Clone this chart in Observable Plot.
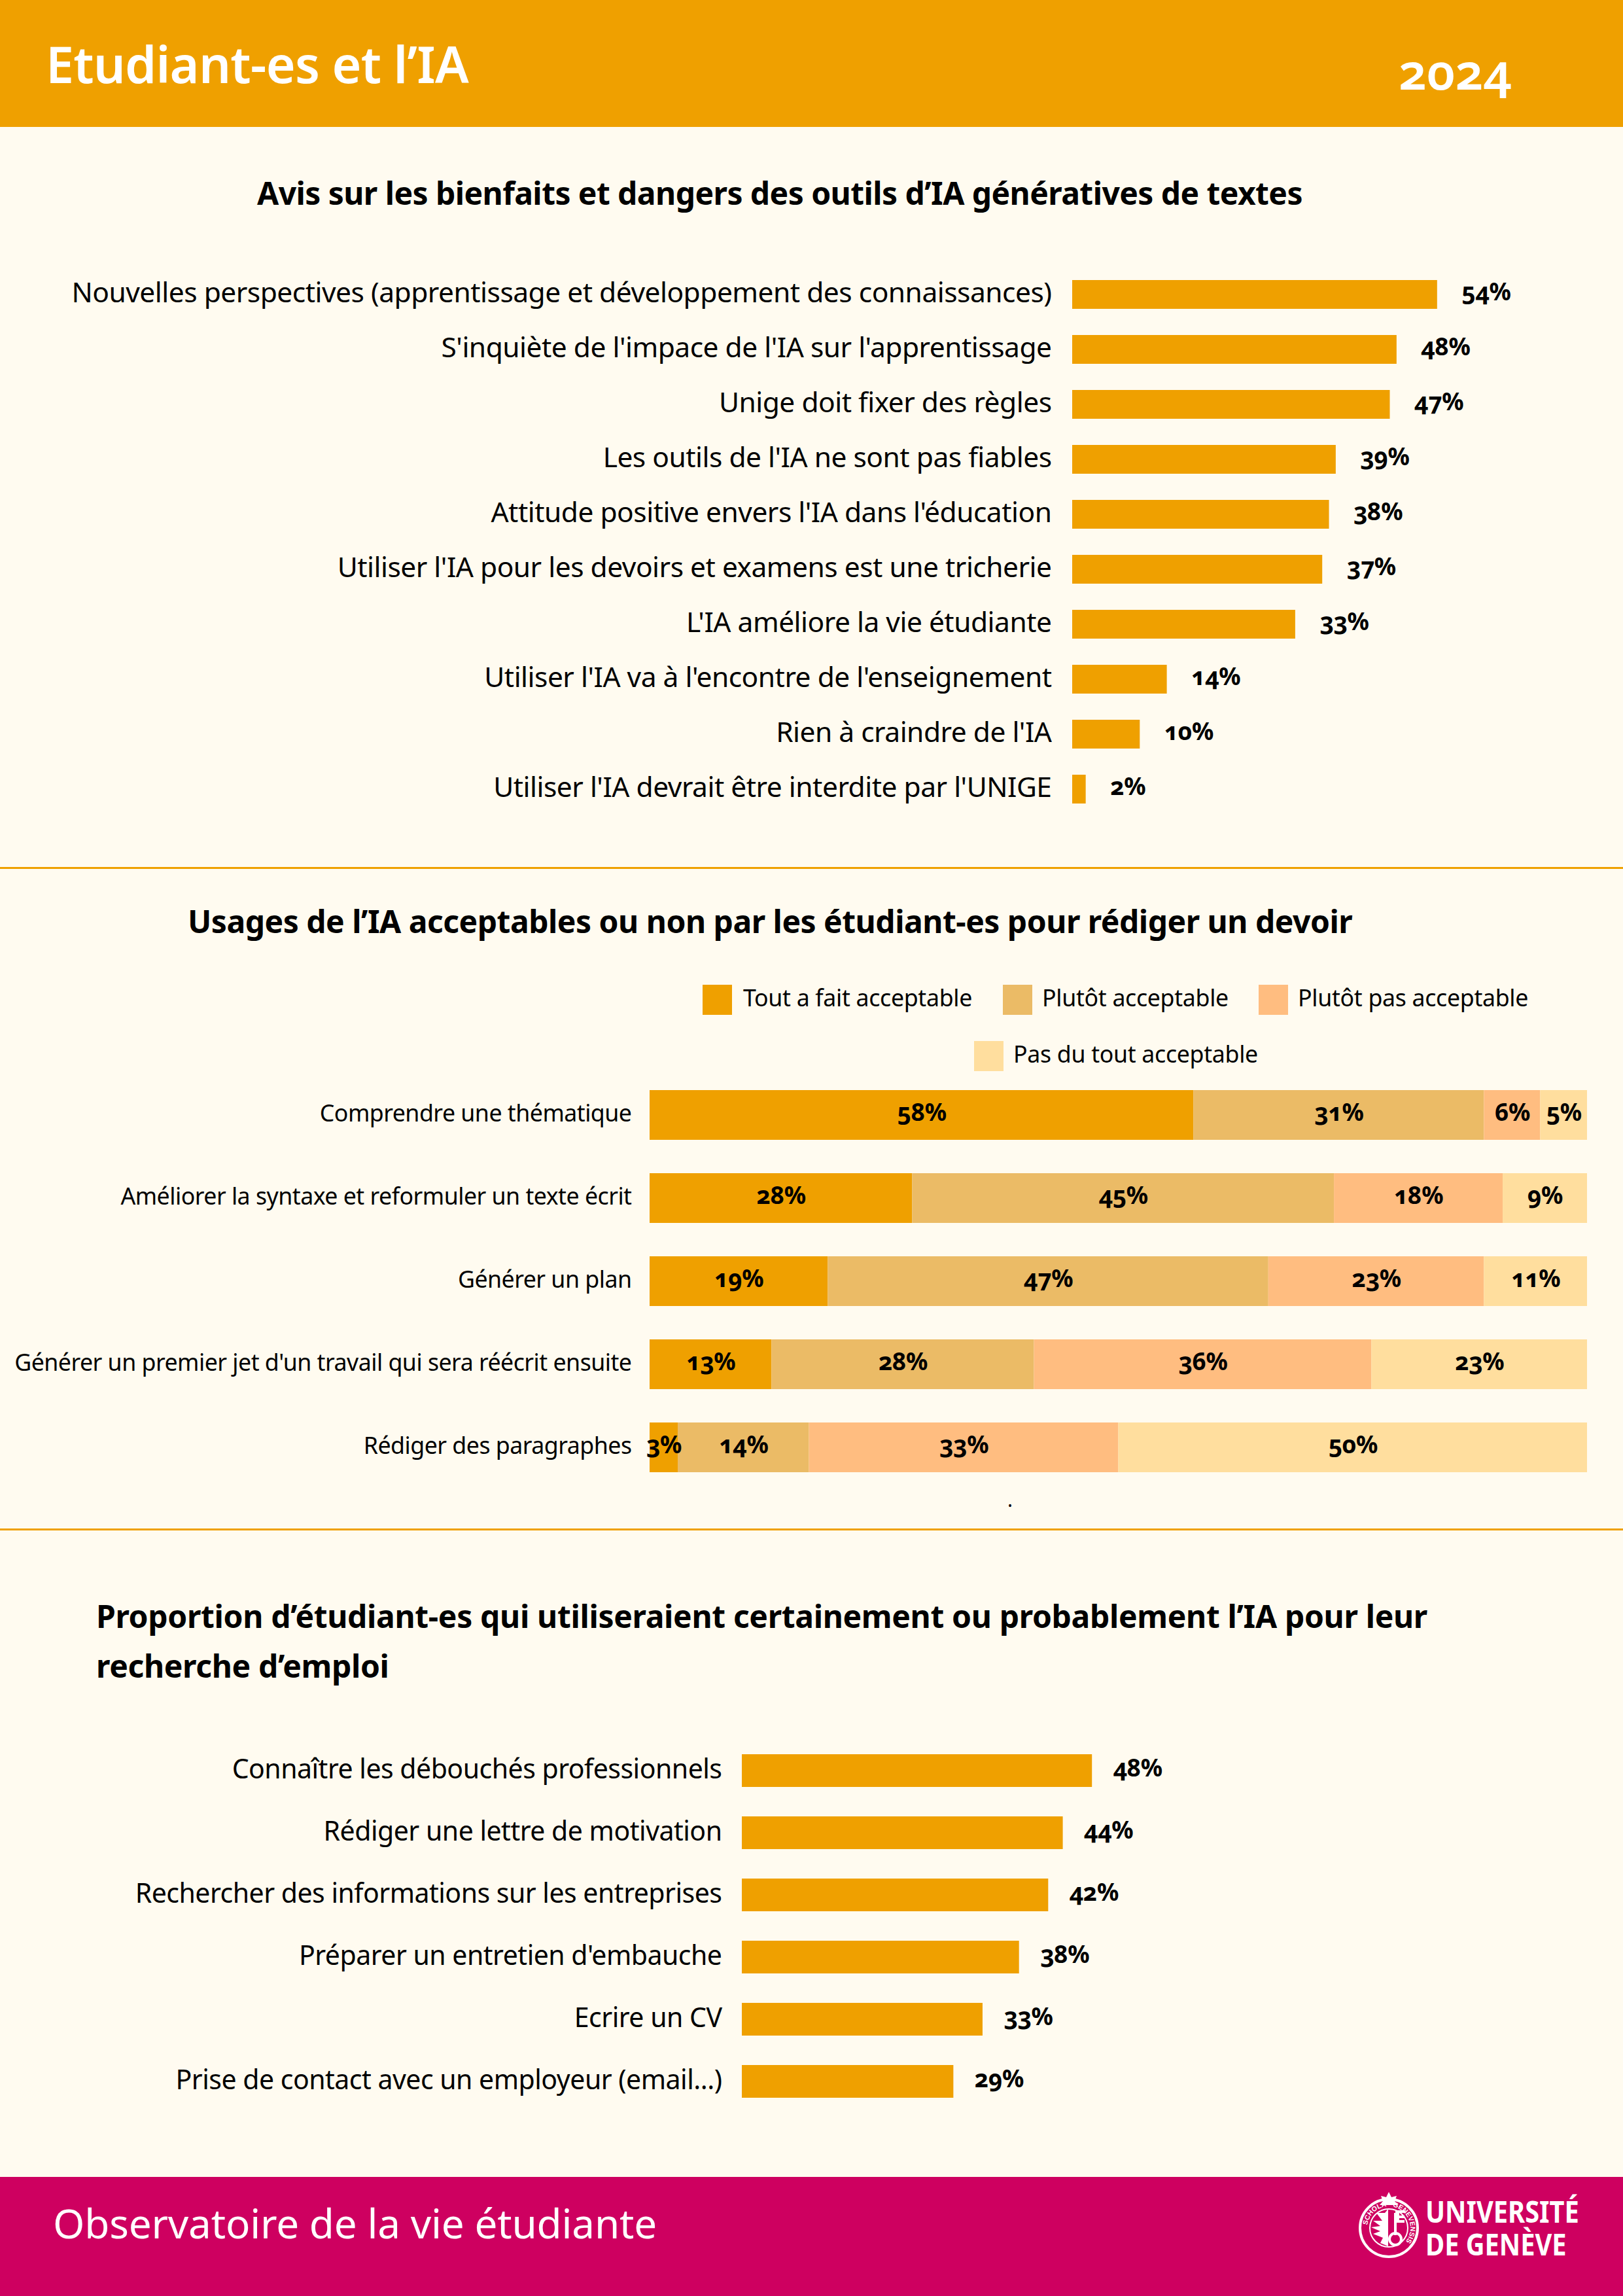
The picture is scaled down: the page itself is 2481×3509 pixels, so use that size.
<!DOCTYPE html>
<html lang="fr">
<head>
<meta charset="utf-8">
<script src="https://cdn.jsdelivr.net/npm/d3@7"></script>
<script src="https://cdn.jsdelivr.net/npm/@observablehq/plot@0.6"></script>
<style>
html,body{margin:0;padding:0;background:#FFFBF0}
#page{position:relative;width:2481px;height:3509px;background:#FFFBF0;overflow:hidden;font-family:"Noto Sans",sans-serif;font-variant-numeric:oldstyle-nums;font-feature-settings:"onum" 1;color:#000}
.abs{position:absolute;white-space:nowrap}
.band{position:absolute;left:0;width:2481px}
.rule{position:absolute;left:0;width:2481px;height:3px;background:#EFA000}
.title{font-weight:700;font-size:48px;letter-spacing:-.57px;line-height:76px}
.sw{position:absolute;width:45px;height:46px}
.lg{position:absolute;white-space:nowrap;font-size:35.7px;letter-spacing:-.3px;line-height:46px}
.plot{position:absolute;left:0}
.plot svg{display:block;overflow:visible;font-feature-settings:"onum" 1;font-variant-numeric:oldstyle-nums}
</style>
</head>
<body>
<div id="page">
  <div class="band" style="top:0;height:194px;background:#EFA000"></div>
  <div class="abs" style="left:70px;top:42px;font-size:77px;letter-spacing:-.75px;line-height:112px;font-weight:600;color:#fff">Etudiant-es et l’IA</div>
  <div class="abs" style="left:2138px;top:52px;font-size:76px;line-height:112px;font-weight:600;color:#fff">2024</div>

  <div class="abs title" style="left:393px;top:257px">Avis sur les bienfaits et dangers des outils d’IA génératives de textes</div>
  <div class="rule" style="top:1325px"></div>
  <div class="abs title" style="left:287px;top:1370px;letter-spacing:-.5px">Usages de l’IA acceptables ou non par les étudiant-es pour rédiger un devoir</div>
  <div class="rule" style="top:2336px"></div>
  <div class="abs" style="left:1540px;top:2272px;font-size:30px;line-height:40px">.</div>
  <div class="abs title" style="left:147px;top:2432px;letter-spacing:-.34px">Proportion d’étudiant-es qui utiliseraient certainement ou probablement l’IA pour leur<br>recherche d’emploi</div>

  <div id="legend"></div>
  <div id="c1" class="plot"></div>
  <div id="c2" class="plot"></div>
  <div id="c3" class="plot"></div>

  <div class="band" style="top:3327px;height:182px;background:#CE0060"></div>
  <div class="abs" style="left:81px;top:3349px;font-size:62px;letter-spacing:-.2px;line-height:96px;color:#fff">Observatoire de la vie étudiante</div>
  <svg class="abs" style="left:2073px;top:3350px" width="100" height="104" viewBox="-50 -52 100 104">
    <defs><path id="ringpath" d="M -33 0 A 33 33 0 1 1 33 0 A 33 33 0 1 1 -33 0"></path></defs>
    <circle r="44" cy="3" fill="none" stroke="#fff" stroke-width="4"></circle>
    <circle r="29" cy="3" fill="none" stroke="#fff" stroke-width="2"></circle>
    <text font-family="Liberation Sans" font-size="10.5" font-weight="700" fill="#fff" transform="translate(0,3)"><textPath href="#ringpath" startOffset="2%">SCHOLA · GENEVENSIS</textPath></text>
    <path d="M0 -52 L4 -44 L12 -46 L9 -38 L14 -32 L-14 -32 L-9 -38 L-12 -46 L-4 -44Z" fill="#fff"></path>
    <path d="M-1 -26 L-1 31 L-13 26 L-9 18 L-24 12 L-13 8 L-27 2 L-13 0 L-24 -8 L-10 -8 L-19 -20 L-6 -20Z" fill="#fff"></path>
    <rect x="8" y="-20" width="4" height="34" fill="#fff"></rect>
    <path d="M10 -24 h14 v4 h-8 v4 h8 v4 h-8 v3 h8 v4 h-14Z" fill="#fff"></path>
    <circle cx="10" cy="20" r="9" fill="none" stroke="#fff" stroke-width="4"></circle>
  </svg>
  <div class="abs" style="left:2179px;top:3354px;font-size:46px;line-height:50px;font-weight:700;color:#fff;transform:scaleX(.865);transform-origin:0 0">UNIVERSITÉ<br>DE GENÈVE</div>
</div>

<script>
// Chart 1: opinions on generative AI tools
const opinionLabels = [
  "Nouvelles perspectives (apprentissage et développement des connaissances)",
  "S'inquiète de l'impace de l'IA sur l'apprentissage",
  "Unige doit fixer des règles",
  "Les outils de l'IA ne sont pas fiables",
  "Attitude positive envers l'IA dans l'éducation",
  "Utiliser l'IA pour les devoirs et examens est une tricherie",
  "L'IA améliore la vie étudiante",
  "Utiliser l'IA va à l'encontre de l'enseignement",
  "Rien à craindre de l'IA",
  "Utiliser l'IA devrait être interdite par l'UNIGE"
];
const opinionValues = [54, 48, 47, 39, 38, 37, 33, 14, 10, 2];

// Chart 2: acceptable uses
const useLabels = [
  "Comprendre une thématique",
  "Améliorer la syntaxe et reformuler un texte écrit",
  "Générer un plan",
  "Générer un premier jet d'un travail qui sera réécrit ensuite",
  "Rédiger des paragraphes"
];
const levels = ["Tout a fait acceptable", "Plutôt acceptable", "Plutôt pas acceptable", "Pas du tout acceptable"];
const toutAFait   = [58, 28, 19, 13, 3];
const plutot      = [31, 45, 47, 28, 14];
const plutotPas   = [6, 18, 23, 36, 33];
const pasDuTout   = [5, 9, 11, 23, 50];
const levelColors = ["#EFA000", "#EBBB66", "#FFBD80", "#FFDE9E"];

// Chart 3: job search
const jobLabels = [
  "Connaître les débouchés professionnels",
  "Rédiger une lettre de motivation",
  "Rechercher des informations sur les entreprises",
  "Préparer un entretien d'embauche",
  "Ecrire un CV",
  "Prise de contact avec un employeur (email...)"
];
const jobValues = [48, 44, 42, 38, 33, 29];

const FONT = '"Noto Sans", sans-serif';
const ORANGE = "#EFA000";

function hbar(labels, values, o) {
  const data = labels.map((label, i) => ({label, value: values[i]}));
  const p = 1 - o.barH / o.step;
  return Plot.plot({
    width: 2481,
    height: labels.length * o.step,
    marginTop: 0, marginBottom: 0, marginLeft: o.x0, marginRight: 0,
    style: {fontFamily: FONT, background: "transparent", color: "#000", letterSpacing: "-.5px"},
    x: {domain: [0, 100], range: [o.x0, o.x0 + 100 * o.perPct], axis: null},
    y: {domain: labels, paddingInner: p, paddingOuter: p / 2, label: null, axis: null},
    marks: [
      Plot.axisY({tickSize: 0, tickPadding: o.gap, fontSize: o.fontSize, label: null, anchor: "left", lineWidth: Infinity, dy: -2}),
      Plot.barX(data, {x: "value", y: "label", fill: ORANGE}),
      Plot.text(data, {x: "value", y: "label", text: d => d.value + "%", dx: o.valueDx, dy: -3, textAnchor: "start", fontWeight: 700, fontSize: 37})
    ]
  });
}

document.getElementById("c1").style.top = "408px";
document.getElementById("c1").append(hbar(opinionLabels, opinionValues, {x0: 1639, perPct: 10.33, step: 84, barH: 44, gap: 32, fontSize: 42.5, valueDx: 37}));

const stacked = useLabels.flatMap((label, i) => [toutAFait, plutot, plutotPas, pasDuTout].map((s, k) => ({label, level: levels[k], value: s[i]})));
const stackStep = 127.25, stackBar = 76, stackP = 1 - stackBar / stackStep;
const stackOpts = {x: "value", y: "label", z: "level", order: levels};
document.getElementById("c2").style.top = "1640px";
document.getElementById("c2").append(Plot.plot({
  width: 2481,
  height: useLabels.length * stackStep,
  marginTop: 0, marginBottom: 0, marginLeft: 993, marginRight: 55,
  style: {fontFamily: FONT, background: "transparent", color: "#000", letterSpacing: "-.5px"},
  x: {domain: [0, 100], axis: null},
  y: {domain: useLabels, paddingInner: stackP, paddingOuter: stackP / 2, label: null, axis: null},
  color: {domain: levels, range: levelColors},
  marks: [
    Plot.axisY({tickSize: 0, tickPadding: 28, fontSize: 35.7, label: null, anchor: "left", lineWidth: Infinity, dy: -2}),
    Plot.barX(stacked, Plot.stackX({...stackOpts, fill: "level"})),
    Plot.text(stacked, Plot.stackX({...stackOpts, text: d => d.value + "%", fontWeight: 700, fontSize: 37, dy: -3}))
  ]
}));

const swatches = [[1074, 1505], [1533, 1505], [1924, 1505], [1489, 1591]];
const lgText = [1136, 1593, 1984, 1549];
const lg = document.getElementById("legend");
levels.forEach((name, i) => {
  const s = document.createElement("div");
  s.className = "sw";
  s.style.cssText = `left:${swatches[i][0]}px;top:${swatches[i][1]}px;background:${levelColors[i]}`;
  const t = document.createElement("div");
  t.className = "lg";
  t.style.cssText = `left:${lgText[i]}px;top:${swatches[i][1] - 4}px`;
  t.textContent = name;
  lg.append(s, t);
});

document.getElementById("c3").style.top = "2657px";
document.getElementById("c3").append(hbar(jobLabels, jobValues, {x0: 1134, perPct: 11.15, step: 95.5, barH: 50, gap: 31, fontSize: 41, valueDx: 32}));
</script>
</body>
</html>
